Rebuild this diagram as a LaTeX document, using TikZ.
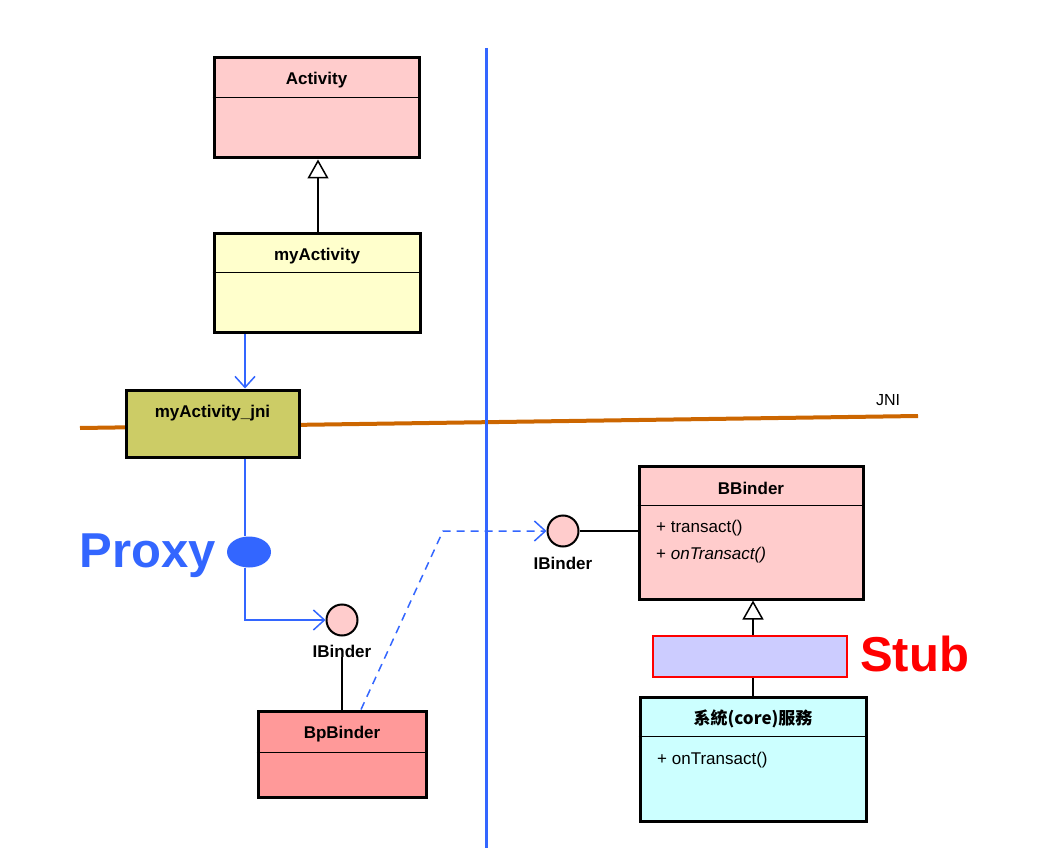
\documentclass[tikz,border=0pt]{standalone}
\usepackage{fontspec}
\setmainfont{Liberation Sans}
\newfontfamily\cjk{Noto Sans CJK TC}
\usetikzlibrary{arrows.meta,shapes.geometric,calc}
\definecolor{pinkc}{HTML}{FFCCCC}
\definecolor{yelc}{HTML}{FFFFCC}
\definecolor{olivec}{HTML}{CCCC66}
\definecolor{bpc}{HTML}{FF9999}
\definecolor{cyanc}{HTML}{CCFFFF}
\definecolor{stubc}{HTML}{CCCCFF}
\definecolor{blueln}{HTML}{3366FF}
\definecolor{orangec}{HTML}{CC6600}
\definecolor{redc}{HTML}{FF0000}
\tikzset{
  umlbox/.style={draw=black, line width=3pt, rectangle, inner sep=0pt},
  ttl/.style={font=\fontsize{17}{19}\selectfont\bfseries, inner sep=0pt},
  mem/.style={font=\fontsize{17}{19}\selectfont, inner sep=0pt, anchor=west},
  divl/.style={line width=1pt},
  iface/.style={circle, draw=black, line width=2pt, fill=pinkc, minimum size=31pt, inner sep=0pt},
  inh/.style={line width=1.5pt, -{Triangle[open, length=19pt, width=21pt, fill=white]}},
  bluearr/.style={draw=blueln, line width=1.5pt, -{Straight Barb[length=11pt, width=20pt]}},
  blueline/.style={draw=blueln, line width=1.5pt},
  plain/.style={line width=1.5pt}
}
\begin{document}
\begin{tikzpicture}[x=1pt,y=-1pt]
\useasboundingbox (0,0) rectangle (1046,866);
% JNI line and vertical divider
\coordinate (jl) at (80,428);
\coordinate (jr) at (918,416);
\draw[orangec, line width=4pt] (jl) -- (jr);
\node[font=\fontsize{16}{18}\selectfont, inner sep=0pt] (jnil) at (888,400) {JNI};
\coordinate (vt) at (486,48);
\coordinate (vb) at (486,848);
\draw[blueln, line width=3pt] (vt) -- (vb);

% Activity
\node[umlbox, fill=pinkc, minimum width=205pt, minimum height=100pt] (act) at (316.5,108) {};
\draw[divl] ($(act.north west)+(0,41)$) -- ($(act.north east)+(0,41)$);
\node[ttl] (actt) at (316.5,80) {Activity};

% myActivity
\node[umlbox, fill=yelc, minimum width=206pt, minimum height=99pt] (myact) at (317,283.5) {};
\draw[divl] ($(myact.north west)+(0,40)$) -- ($(myact.north east)+(0,40)$);
\node[ttl] (myactt) at (317,256) {myActivity};
\coordinate (ix1) at (318,0);
\draw[inh] (myact.north -| ix1) -- (act.south -| ix1);

% myActivity_jni
\node[umlbox, fill=olivec, minimum width=173pt, minimum height=67pt] (jni) at (212.5,423.5) {};
\node[ttl] (jnit) at (212.5,413) {myActivity\_jni};
\coordinate (ox) at (245,0);
\draw[bluearr] (myact.south -| ox) -- (jni.north -| ox);

% Proxy
\node[ellipse, fill=blueln, minimum width=44pt, minimum height=31pt, inner sep=0pt] (px) at (249,552) {};
\node[font=\fontsize{49}{55}\selectfont\bfseries, text=blueln, anchor=base east, inner sep=0pt] (pxt) at (216,567) {Proxy};
\draw[blueline] (jni.south -| ox) -- (px.north -| ox);

% IBinder left
\node[iface] (ib1) at (342,620) {};
\node[ttl] (ib1l) at (342,651) {IBinder};
\draw[bluearr] (px.south -| ox) -- (ox |- ib1) -- (ib1.west);

% BpBinder
\node[umlbox, fill=bpc, minimum width=168pt, minimum height=86pt] (bp) at (342,754) {};
\draw[divl] ($(bp.north west)+(0,43)$) -- ($(bp.north east)+(0,43)$);
\node[ttl] (bpt) at (342,734) {BpBinder};
\draw[plain] (ib1l.south) -- (bp.north);

% IBinder right
\node[iface] (ib2) at (563,531) {};
\node[ttl] (ib2l) at (563,563) {IBinder};
\coordinate (d1) at (361,0);
\coordinate (bend) at (443,531);
\draw[bluearr, dashed, dash pattern=on 8pt off 6pt] (bp.north -| d1) -- (bend) -- (ib2.west);

% BBinder
\node[umlbox, fill=pinkc, minimum width=224pt, minimum height=133pt] (bb) at (751,532.5) {};
\draw[divl] ($(bb.north west)+(0,41)$) -- ($(bb.north east)+(0,41)$);
\node[ttl] (bbt) at (751,488) {BBinder};
\node[mem] (bbm1) at (656,528) {+ transact()};
\node[mem] (bbm2) at (656,555) {+ \itshape onTransact()};
\draw[plain] (ib2.east) -- (bb.west |- ib2);

% Stub
\node[rectangle, draw=redc, line width=1.2pt, fill=stubc, minimum width=194pt, minimum height=41pt, inner sep=0pt] (stub) at (750,656.5) {};
\node[font=\fontsize{49}{55}\selectfont\bfseries, text=redc, anchor=base west, inner sep=0pt] (stubt) at (860,671) {Stub};
\coordinate (ix2) at (753,0);
\draw[inh] (stub.north -| ix2) -- (bb.south -| ix2);

% System service
\node[umlbox, fill=cyanc, minimum width=226pt, minimum height=124pt] (sys) at (753,759) {};
\draw[divl] ($(sys.north west)+(0,41)$) -- ($(sys.north east)+(0,41)$);
\node[ttl, font=\fontsize{17}{19}\selectfont\cjk\bfseries] (syst) at (753,719) {系統(core)服務};
\node[mem] (sysm) at (657,760) {+ onTransact()};
\draw[plain] (sys.north -| ix2) -- (stub.south -| ix2);
\end{tikzpicture}
\end{document}
